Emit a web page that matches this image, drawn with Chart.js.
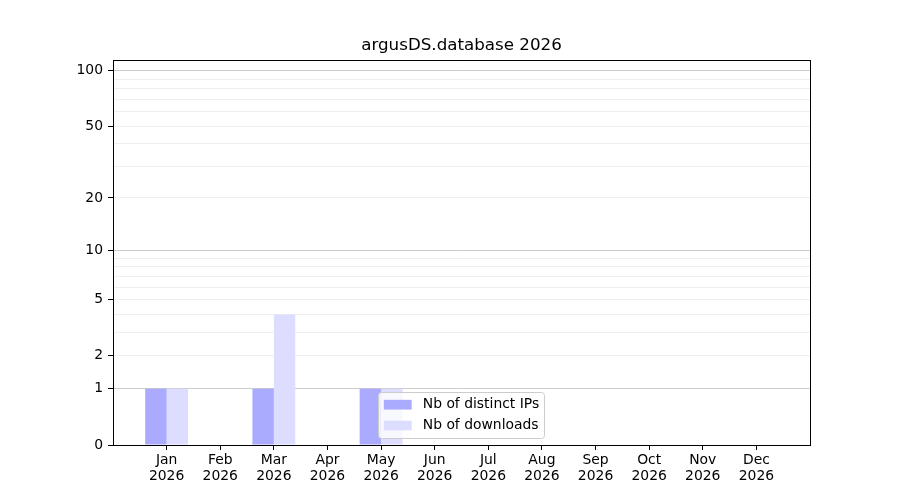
<!DOCTYPE html>
<html>
<head>
<meta charset="utf-8">
<script src="https://cdn.jsdelivr.net/npm/chart.js@4.4.1/dist/chart.umd.min.js"></script>
<style>
  html, body { margin: 0; padding: 0; background: #fff; }
  #wrap { width: 900px; height: 500px; }
</style>
</head>
<body>
<div id="wrap"><canvas id="chart" width="900" height="500"></canvas></div>
<script>
// ── Datos ──
const months = ['Jan', 'Feb', 'Mar', 'Apr', 'May', 'Jun', 'Jul', 'Aug', 'Sep', 'Oct', 'Nov', 'Dec'];
const year = '2026';
const distinctIPs = [1, 0, 1, 0, 1, 0, 0, 0, 0, 0, 0, 0];
const downloads   = [1, 0, 4, 0, 1, 0, 0, 0, 0, 0, 0, 0];
const yMajorTicks = [0, 1, 2, 5, 10, 20, 50, 100];
const yMinorTicks = [3, 4, 6, 7, 8, 9, 30, 40, 60, 70, 80, 90];
const yStrongGrid = [1, 10, 100];

const FONT = "'DejaVu Sans', sans-serif";
const TICK_SIZE = 13.9;

// ── Escala log10(x + 1) ──
class Log1pScale extends Chart.LinearScale {
  buildTicks() {
    return yMajorTicks.concat(yMinorTicks).sort((a, b) => a - b).map(v => ({ value: v }));
  }
  configure() {
    super.configure();
    this._lStart = Math.log10(this.min + 1);
    this._lRange = Math.log10(this.max + 1) - this._lStart;
  }
  getPixelForValue(value) {
    if (value === null || value === undefined || isNaN(value)) return NaN;
    return this.getPixelForDecimal((Math.log10(value + 1) - this._lStart) / this._lRange);
  }
  getValueForPixel(pixel) {
    const d = this.getDecimalForPixel(pixel);
    return Math.pow(10, this._lStart + d * this._lRange) - 1;
  }
}
Log1pScale.id = 'log1p';
Chart.register(Log1pScale);

// ── Marco y leyenda estilo matplotlib ──
const framePlugin = {
  id: 'frame',
  afterDatasetsDraw(chart) {
    const { ctx, chartArea: a } = chart;
    ctx.save();
    ctx.strokeStyle = '#000';
    ctx.lineWidth = 1;
    ctx.strokeRect(Math.round(a.left) + 0.5, Math.round(a.top) + 0.5,
      Math.round(a.right - a.left), Math.round(a.bottom - a.top));
    ctx.restore();
  },
  afterDraw(chart) {
    const { ctx, chartArea: a } = chart;
    const fs = TICK_SIZE;
    const pad = 0.4 * fs, handle = 2 * fs, textPad = 0.8 * fs, spacing = 0.5 * fs;
    const ds = chart.data.datasets;
    ctx.save();
    ctx.font = `${fs}px ${FONT}`;
    const tw = Math.max(...ds.map(d => ctx.measureText(d.label).width));
    const w = 2 * pad + handle + textPad + tw;
    const h = 2 * pad + ds.length * fs + (ds.length - 1) * spacing;
    const x = (a.left + a.right) / 2 - w / 2;
    const y = a.bottom - 0.5 * fs - h;
    ctx.beginPath();
    ctx.roundRect(Math.round(x) + 0.5, Math.round(y) + 0.5, Math.round(w), Math.round(h), 3);
    ctx.fillStyle = 'rgba(255,255,255,0.8)';
    ctx.fill();
    ctx.strokeStyle = '#cccccc';
    ctx.lineWidth = 1;
    ctx.stroke();
    ds.forEach((d, i) => {
      const cy = y + pad + fs / 2 + i * (fs + spacing);
      ctx.fillStyle = d.backgroundColor;
      ctx.fillRect(x + pad, cy - 0.35 * fs, handle, 0.7 * fs);
      ctx.fillStyle = '#000';
      ctx.textBaseline = 'middle';
      ctx.textAlign = 'left';
      ctx.fillText(d.label, x + pad + handle + textPad, cy);
    });
    ctx.restore();
  }
};

const labels = [''].concat(months.map(m => [m, year]), ['']);
const pad = arr => [null].concat(arr, [null]);

new Chart(document.getElementById('chart'), {
  type: 'bar',
  data: {
    labels,
    datasets: [
      { label: 'Nb of distinct IPs', data: pad(distinctIPs), backgroundColor: '#aaaaff', borderWidth: 0 },
      { label: 'Nb of downloads', data: pad(downloads), backgroundColor: '#ddddff', borderWidth: 0 }
    ]
  },
  options: {
    responsive: false,
    animation: false,
    devicePixelRatio: 1,
    layout: { padding: { top: 30, right: 90, left: 0, bottom: 0 } },
    datasets: { bar: { categoryPercentage: 0.8, barPercentage: 1.0 } },
    plugins: {
      legend: { display: false },
      tooltip: { enabled: false },
      title: {
        display: true,
        text: 'argusDS.database 2026',
        fullSize: false,
        color: '#000',
        font: { family: FONT, size: 16.7, weight: 'normal', lineHeight: 1.2 },
        padding: { top: 6, bottom: 4 }
      }
    },
    scales: {
      x: {
        type: 'category',
        offset: false,
        border: { display: false },
        grid: {
          offset: false,
          drawOnChartArea: false,
          drawTicks: true,
          tickLength: 5,
          tickColor: ctx => (ctx.index === 0 || ctx.index === labels.length - 1) ? 'rgba(0,0,0,0)' : '#000'
        },
        ticks: {
          autoSkip: false, maxRotation: 0, minRotation: 0, padding: 3,
          color: '#000', font: { family: FONT, size: TICK_SIZE, lineHeight: 1.1 }
        },
        afterFit: s => { s.height = 55; }
      },
      y: {
        type: 'log1p',
        min: 0,
        max: 114,
        border: { display: false },
        grid: {
          drawTicks: true,
          tickLength: 5,
          lineWidth: 1,
          color: ctx => {
            const v = ctx.tick ? ctx.tick.value : 0;
            if (v === 0) return 'rgba(0,0,0,0)';
            return yStrongGrid.includes(v) ? '#cccccc' : '#eeeeee';
          },
          tickColor: ctx => (ctx.tick && yMajorTicks.includes(ctx.tick.value)) ? '#000' : 'rgba(0,0,0,0)'
        },
        ticks: {
          autoSkip: false, padding: 5, color: '#000',
          font: { family: FONT, size: TICK_SIZE },
          callback: v => yMajorTicks.includes(v) ? String(v) : ''
        },
        afterFit: s => { s.width = 113; }
      }
    }
  },
  plugins: [framePlugin]
});
</script>
</body>
</html>
